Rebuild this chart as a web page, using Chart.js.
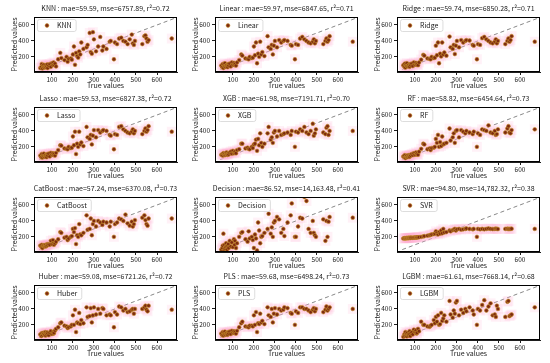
<!DOCTYPE html>
<html>
<head>
<meta charset="utf-8">
<script src="https://cdn.jsdelivr.net/npm/chart.js@4/dist/chart.umd.min.js"></script>
<style>
  body { margin: 0; background: #fff; }
  #wrap { position: relative; width: 550px; height: 363px; overflow: hidden; background: #fff; }
  .pan { position: absolute; width: 184px; height: 90px; }
  .pan canvas { display: block; position: absolute; left: 0; top: 0; }
  .frame { position: absolute; box-sizing: border-box; border: 1px solid #000; pointer-events: none; z-index: 2; }
</style>
</head>
<body>
<div id="wrap"></div>
<script>
// true values of the test set (same for every model)
const trueVals = [45,50,52,55,58,60,62,65,68,70, 72,75,78,80,85,90,95,100,105,108,
  110,115,120,130,140,145,160,170,175,180, 190,195,200,205,210,215,220,225,230,235,
  240,250,265,270,280,285,290,295,300,310, 320,330,340,345,360,375,380,395,400,410,
  420,430,440,450,460,470,480,485,490,495, 530,540,545,550,555,560,670];

// predicted values, one list per model
const knnPred = [60,75,110,55,90,70,100,65,80,95, 70,85,105,60,90,110,75,120,95,130,
  100,115,80,170,250,185,160,200,140,175, 180,165,230,330,100,250,210,190,270,230,
  380,300,320,350,500,260,240,510,420,270, 330,450,280,330,300,390,400,170,380,360,
  430,440,400,390,360,420,480,370,350,400, 360,460,470,430,390,410,430];
const linearPred = [90,70,110,60,100,80,120,75,95,85, 100,70,110,90,115,80,130,100,125,95,
  110,90,130,160,230,215,180,175,170,200, 185,190,330,220,380,120,240,200,390,230,
  260,210,460,320,300,350,230,340,400,320, 410,380,400,410,400,350,340,170,360,350,
  430,450,420,400,380,370,390,420,370,400, 360,400,430,390,410,460,390];
const ridgePred = [95,75,115,65,100,85,120,80,95,90, 105,75,110,95,115,85,130,100,125,100,
  110,95,130,165,225,215,180,175,170,200, 185,190,340,220,380,120,240,205,380,230,
  255,215,455,320,300,350,235,340,400,320, 410,380,400,410,405,350,340,170,360,350,
  435,450,420,400,380,370,390,420,370,400, 360,400,430,390,410,460,390];
const lassoPred = [90,70,110,65,95,80,115,75,90,85, 100,70,110,90,115,80,125,100,120,95,
  110,90,125,160,220,215,180,175,170,200, 185,190,330,220,390,110,240,200,390,230,
  255,210,450,320,300,350,230,340,410,320, 410,380,400,410,400,350,340,170,360,350,
  450,460,420,400,380,370,390,420,370,400, 360,400,430,390,410,460,390];
const xgbPred = [100,110,90,120,105,95,115,100,110,130, 110,100,120,105,125,140,115,150,120,130,
  140,120,160,170,240,240,180,190,175,170, 200,185,230,240,290,150,300,220,370,250,
  200,240,370,450,290,320,250,380,400,330, 400,350,360,370,380,350,400,200,390,380,
  420,400,450,380,360,400,490,340,370,420, 380,360,440,460,350,400,400];
const rfPred = [80,70,95,60,75,85,90,70,80,95, 85,75,100,90,110,95,120,100,130,105,
  115,100,140,175,240,230,170,180,160,185, 190,200,300,250,350,200,260,210,330,230,
  240,250,430,280,320,370,250,400,410,320, 410,390,370,400,380,360,390,200,370,350,
  420,410,400,470,380,370,400,350,360,420, 380,430,460,380,370,410,420];
const catPred = [90,75,100,60,85,95,90,80,85,100, 80,90,110,95,105,100,150,110,160,120,
  100,120,140,170,260,250,190,200,160,180, 200,210,300,260,310,110,220,200,360,230,
  220,250,470,290,300,430,220,360,400,330, 400,380,350,390,380,330,390,200,360,380,
  430,420,400,480,370,340,390,330,360,410, 440,470,410,360,340,430,430];
const decisionPred = [40,60,90,240,30,100,50,70,120,80, 40,90,110,60,150,80,130,70,170,100,
  150,60,120,200,250,260,170,140,270,180, 200,160,60,230,180,30,380,280,120,200,
  210,250,300,490,240,320,200,380,400,450, 420,250,300,210,380,470,620,200,200,330,
  440,430,700,650,300,250,400,250,220,200, 420,150,400,200,390,450,440];
const svrPred = [180,182,183,181,184,185,183,186,185,187, 186,188,187,189,190,188,191,192,190,193,
  194,195,196,200,205,210,215,220,225,230, 235,240,270,250,230,260,240,280,245,300,
  255,260,280,270,285,290,300,280,295,300, 290,295,300,305,300,295,300,200,300,295,
  300,295,300,305,300,298,300,302,300,298, 300,302,298,300,300,302,300];
const huberPred = [80,60,95,70,100,85,90,75,110,65, 95,80,105,90,70,100,120,85,110,90,
  100,130,150,170,220,230,190,180,160,170, 180,200,320,200,390,110,230,220,350,210,
  260,220,420,300,310,410,230,320,420,330, 400,340,410,400,320,330,320,170,360,330,
  430,420,380,400,360,370,390,400,340,400, 400,420,440,390,370,440,390];
const plsPred = [90,70,110,65,100,80,115,75,95,85, 100,75,110,90,115,85,125,100,120,95,
  110,90,125,170,220,240,180,175,170,190, 190,180,320,200,360,110,220,210,340,230,
  250,210,420,320,300,400,230,340,410,330, 400,380,390,420,410,350,340,200,370,350,
  420,420,400,400,380,360,390,410,370,400, 360,390,430,380,400,420,400];
const lgbmPred = [50,80,60,110,70,90,55,100,75,65, 85,120,60,95,105,80,140,110,130,90,
  100,150,120,240,200,200,180,175,190,200, 260,220,300,240,320,200,210,350,250,280,
  320,240,500,330,290,380,340,480,500,320, 390,350,400,370,420,380,330,200,400,380,
  450,510,380,430,470,320,330,300,440,400, 300,490,500,310,320,330,420];

const models = ['KNN','Linear','Ridge','Lasso','XGB','RF','CatBoost','Decision','SVR','Huber','PLS','LGBM'];
const predSets = [knnPred, linearPred, ridgePred, lassoPred, xgbPred, rfPred, catPred, decisionPred, svrPred, huberPred, plsPred, lgbmPred];
const maeVals = ['59.59','59.97','59.74','59.53','61.98','58.82','57.24','86.52','94.80','59.08','59.68','61.61'];
const mseVals = ['6757.89','6847.65','6850.28','6827.38','7191.71','6454.64','6370.08','14,163.48','14,782.32','6721.26','6498.24','7668.14'];
const r2Vals = ['0.72','0.71','0.71','0.72','0.70','0.73','0.73','0.41','0.38','0.72','0.73','0.68'];

const xTicks = [100, 200, 300, 400, 500, 600];
const yTicks = [200, 400, 600];
const diagLine = [40, 680];

// layout of the 4x3 grid (plot area left / top in page pixels)
const colLeft = [34, 215, 397];
const rowTop = [17, 107, 197, 285];
const PW = 184, PH = 90;
const FONT = "'Noto Sans CJK SC', 'DejaVu Sans', sans-serif";
const PT_FILL = '#7e2a10', PT_EDGE = '#c8922c';
const SPINE = '#1e1e1e';

// title over the plot area and legend box in the top-left corner
const panelPlugin = {
  id: 'panel',
  afterDraw(chart, args, opts) {
    const { ctx, chartArea: a } = chart;
    ctx.save();
    ctx.fillStyle = '#222';
    ctx.font = '7px ' + FONT;
    ctx.textAlign = 'center';
    ctx.textBaseline = 'middle';
    ctx.fillText(opts.title, (a.left + a.right) / 2, a.top - 9);
    // legend
    const tw = ctx.measureText(opts.label).width;
    const bx = a.left + 3, by = a.top + 2, bw = tw + 24, bh = 12;
    ctx.fillStyle = 'rgba(255,255,255,0.85)';
    ctx.strokeStyle = '#d4d4d4';
    ctx.lineWidth = 0.8;
    ctx.beginPath();
    ctx.roundRect(bx + 0.5, by + 0.5, bw, bh, 2);
    ctx.fill();
    ctx.stroke();
    ctx.beginPath();
    ctx.arc(a.left + 13, by + 6.5, 1.9, 0, Math.PI * 2);
    ctx.fillStyle = PT_FILL;
    ctx.fill();
    ctx.strokeStyle = PT_EDGE;
    ctx.lineWidth = 0.6;
    ctx.stroke();
    ctx.fillStyle = '#222';
    ctx.textAlign = 'left';
    ctx.fillText(opts.label, a.left + 23, by + 6.8);
    ctx.restore();
  }
};

const wrap = document.getElementById('wrap');

models.forEach((name, i) => {
  const col = i % 3, row = Math.floor(i / 3);
  const div = document.createElement('div');
  div.className = 'pan';
  div.style.left = (colLeft[col] - 34) + 'px';
  div.style.top = (rowTop[row] - 17) + 'px';
  const cv = document.createElement('canvas');
  cv.width = PW;
  cv.height = PH;
  cv.style.width = PW + 'px';
  cv.style.height = PH + 'px';
  div.appendChild(cv);
  wrap.appendChild(div);

  const preds = predSets[i];
  const pts = trueVals.map((t, k) => ({ x: t, y: preds[k] }));

  const chart = new Chart(cv, {
    type: 'scatter',
    data: {
      datasets: [
        {
          label: name,
          data: pts,
          pointStyle: 'circle',
          pointRadius: 1.9,
          backgroundColor: PT_FILL,
          borderColor: PT_EDGE,
          borderWidth: 0.6
        },
        {
          label: 'halo',
          data: pts,
          pointStyle: 'rect',
          pointRadius: 7,
          backgroundColor: 'rgba(255,170,205,0.17)',
          borderWidth: 0
        },
        {
          label: 'ideal',
          type: 'line',
          data: diagLine.map(v => ({ x: v, y: v })),
          borderColor: '#888',
          borderWidth: 1,
          borderDash: [4, 3],
          pointRadius: 0,
          fill: false
        }
      ]
    },
    options: {
      responsive: false,
      animation: false,
      devicePixelRatio: 1,
      layout: { padding: { left: 0, right: 2, top: 17, bottom: 0 } },
      plugins: {
        title: { display: false },
        legend: { display: false },
        tooltip: { enabled: false },
        panel: {
          title: name + ' : mae=' + maeVals[i] + ', mse=' + mseVals[i] + ', r²=' + r2Vals[i],
          label: name
        }
      },
      scales: {
        x: {
          type: 'linear',
          position: 'bottom',
          min: 15,
          max: 695,
          afterBuildTicks: s => { s.ticks = xTicks.map(v => ({ value: v })); },
          afterFit: s => { s.height = 18; },
          grid: { drawOnChartArea: false, drawTicks: true, tickLength: 3, color: SPINE },
          border: { display: true, color: SPINE },
          ticks: { color: '#222', font: { family: FONT, size: 6.5 }, padding: 1, maxRotation: 0 },
          title: { display: true, text: 'True values', color: '#222', font: { family: FONT, size: 7 }, padding: { top: 0, bottom: 0 } }
        },
        y: {
          type: 'linear',
          position: 'left',
          min: 10,
          max: 700,
          afterBuildTicks: s => { s.ticks = yTicks.map(v => ({ value: v })); },
          afterFit: s => { s.width = 34; },
          grid: { drawOnChartArea: false, drawTicks: true, tickLength: 3, color: SPINE },
          border: { display: true, color: SPINE },
          ticks: { color: '#222', font: { family: FONT, size: 6.5 }, padding: 2 },
          title: { display: true, text: 'Predicted values', color: '#222', font: { family: FONT, size: 7 }, padding: { top: 10, bottom: 0 } }
        }
      }
    },
    plugins: [panelPlugin]
  });

  // box round the plot area, placed from the chart's own layout
  const a = chart.chartArea;
  const fr = document.createElement('div');
  fr.className = 'frame';
  fr.style.left = Math.round(a.left) + 'px';
  fr.style.top = Math.round(a.top) + 'px';
  fr.style.width = Math.round(a.right - a.left) + 'px';
  fr.style.height = Math.round(a.bottom - a.top) + 'px';
  div.appendChild(fr);
});
</script>
</body>
</html>
